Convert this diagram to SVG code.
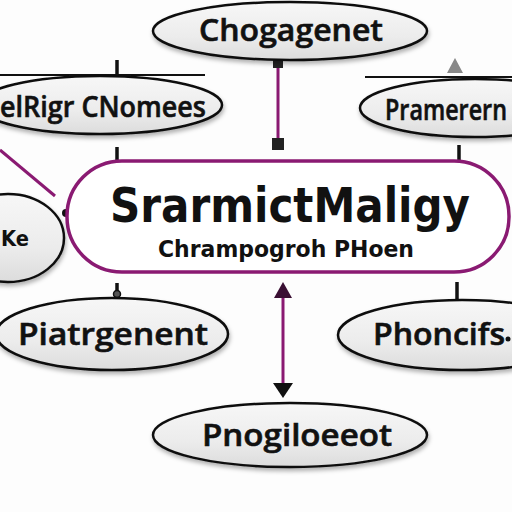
<svg xmlns="http://www.w3.org/2000/svg" width="512" height="512" viewBox="0 0 512 512">
<defs>
<linearGradient id="g" x1="0" y1="0" x2="0" y2="1">
<stop offset="0" stop-color="#f7f7f7"/><stop offset="0.6" stop-color="#ececec"/><stop offset="1" stop-color="#dcdcdc"/>
</linearGradient>
<filter id="sh" x="-20%" y="-20%" width="140%" height="160%"><feDropShadow dx="1" dy="3" stdDeviation="2" flood-color="#000" flood-opacity="0.3"/></filter>
</defs>
<style>
.n{fill:url(#g);stroke:#111;stroke-width:2.5;filter:url(#sh)}
.t{font-family:"Open Sans","DejaVu Sans",sans-serif;font-weight:600;fill:#111;stroke:#111;stroke-width:0.6;text-anchor:middle}
.b{font-family:"DejaVu Sans","Liberation Sans",sans-serif;font-weight:bold;fill:#111;text-anchor:middle}
.p{stroke:#8a1a72;stroke-width:3;fill:none}
.k{stroke:#111;stroke-width:2;fill:none}
.tk{stroke:#111;stroke-width:3.5;fill:none}
</style>
<rect width="512" height="512" fill="#fdfdfd"/>
<g id="connectors">
<line class="k" x1="0" y1="75" x2="205" y2="75"/>
<line class="k" x1="365" y1="77" x2="512" y2="77"/>
<path d="M455,58 L447,73 L463,73 z" fill="#888"/>
<line class="tk" x1="117" y1="60" x2="117" y2="81"/>
<line class="p" x1="278" y1="62" x2="278" y2="150"/>
<rect x="273" y="59" width="10" height="9" fill="#222"/>
<rect x="272" y="138" width="12" height="12" fill="#222"/>
<line class="p" x1="0" y1="150" x2="55" y2="196"/>
<line class="tk" x1="117" y1="147" x2="117" y2="166"/>
<line class="tk" x1="459" y1="145" x2="459" y2="166"/>
<line class="tk" x1="117" y1="283" x2="117" y2="298"/>
<circle cx="117" cy="294" r="3.5" fill="#555" stroke="#111" stroke-width="1.5"/>
<line class="tk" x1="457" y1="282" x2="457" y2="300"/>
<line class="p" x1="283" y1="292" x2="283" y2="386"/>
<path d="M283,282 L274,298 L292,298 z" fill="#3a0f33"/>
<path d="M283,398 L273,383 L293,383 z" fill="#111"/>
<circle cx="66" cy="213" r="4" fill="#111"/>
</g>
<g id="node-top">
<ellipse class="n" cx="290" cy="31" rx="137" ry="29"/>
<text class="t" x="291" y="41" font-size="30" textLength="184" lengthAdjust="spacingAndGlyphs">Chogagenet</text>
</g>
<g id="node-left">
<ellipse class="n" cx="100" cy="105" rx="122" ry="29"/>
<text class="t" x="103" y="117" font-size="29" textLength="206" lengthAdjust="spacingAndGlyphs">elRigr CNomees</text>
</g>
<g id="node-right">
<ellipse class="n" cx="475" cy="108" rx="115" ry="29"/>
<text class="t" x="446" y="120" font-size="29" textLength="122" lengthAdjust="spacingAndGlyphs">Pramerern</text>
</g>
<g id="node-center">
<rect x="67" y="161" width="442" height="111" rx="55" fill="#fff" stroke="#8a1a72" stroke-width="3.5"/>
<text class="b" x="290" y="222" font-size="48" textLength="360" lengthAdjust="spacingAndGlyphs">SrarmictMaligy</text>
<text class="b" x="286" y="257" font-size="23" textLength="256" lengthAdjust="spacingAndGlyphs">Chrampogroh PHoen</text>
</g>
<g id="node-ke">
<ellipse class="n" cx="8" cy="238" rx="56" ry="44"/>
<text class="b" x="15" y="246" font-size="21" textLength="28" lengthAdjust="spacingAndGlyphs">Ke</text>
</g>
<g id="node-bl">
<ellipse class="n" cx="112" cy="334" rx="116" ry="36"/>
<text class="t" x="113" y="345" font-size="30" textLength="190" lengthAdjust="spacingAndGlyphs">Piatrgenent</text>
</g>
<g id="node-br">
<ellipse class="n" cx="462" cy="335" rx="124" ry="35"/>
<text class="t" x="439" y="345" font-size="30" textLength="132" lengthAdjust="spacingAndGlyphs">Phoncifs</text>
<circle cx="508" cy="339" r="2.5" fill="#111"/>
</g>
<g id="node-bottom">
<ellipse class="n" cx="290" cy="435" rx="137" ry="32"/>
<text class="t" x="297" y="446" font-size="30" textLength="190" lengthAdjust="spacingAndGlyphs">Pnogiloeeot</text>
</g>
</svg>
